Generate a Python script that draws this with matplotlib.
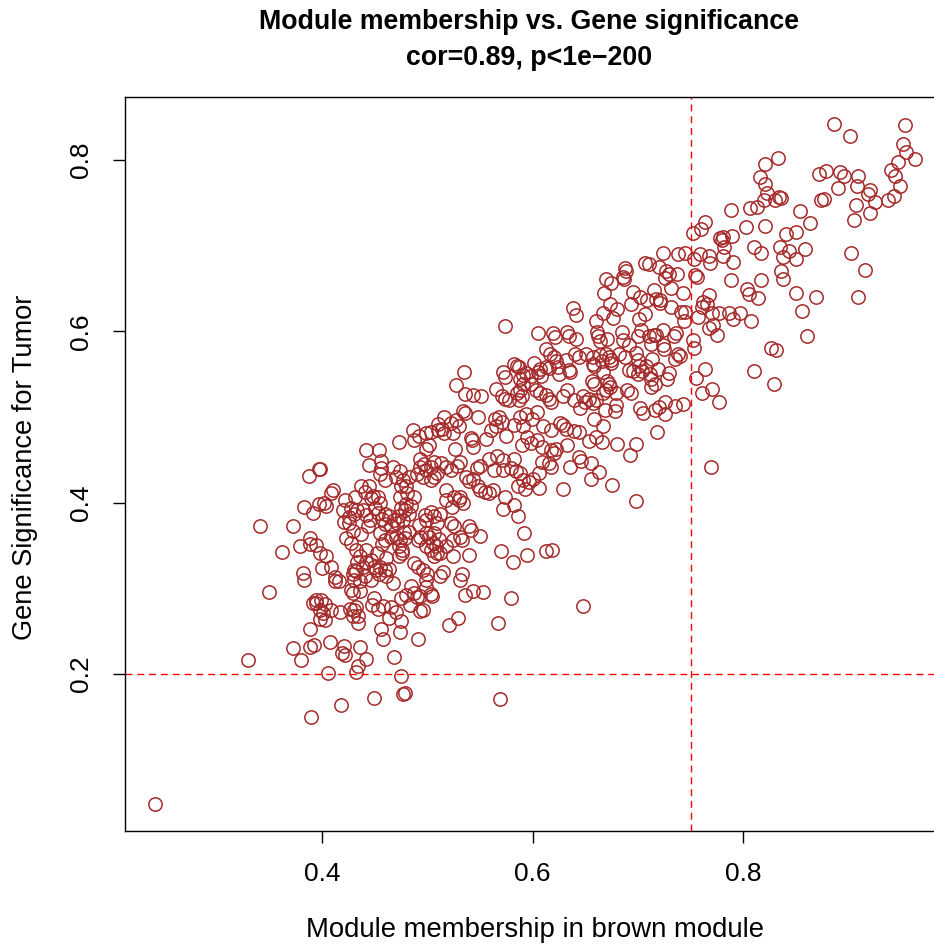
import numpy as np
import matplotlib.pyplot as plt

plt.rcParams['font.family'] = ['Liberation Sans', 'DejaVu Sans']

# (module membership, gene significance), by region of the cloud
upper_right = [
    (0.886, 0.842), (0.901, 0.828), (0.954, 0.841), (0.952, 0.819), (0.955, 0.809),
    (0.963, 0.801), (0.947, 0.798), (0.940, 0.789), (0.944, 0.781), (0.949, 0.770),
    (0.943, 0.758), (0.938, 0.754), (0.925, 0.751), (0.920, 0.765), (0.919, 0.760),
    (0.920, 0.738), (0.909, 0.782), (0.908, 0.770), (0.907, 0.748), (0.905, 0.730),
    (0.892, 0.786), (0.896, 0.782), (0.890, 0.767), (0.879, 0.787), (0.872, 0.784),
    (0.877, 0.755), (0.874, 0.753), (0.902, 0.692), (0.916, 0.672), (0.909, 0.640),
    (0.863, 0.726), (0.854, 0.741), (0.859, 0.696), (0.850, 0.716), (0.841, 0.714),
    (0.843, 0.694), (0.850, 0.684), (0.835, 0.699), (0.838, 0.687), (0.836, 0.670),
    (0.838, 0.661), (0.850, 0.645), (0.869, 0.640), (0.856, 0.624), (0.861, 0.594),
    (0.826, 0.581), (0.831, 0.578), (0.829, 0.538), (0.810, 0.554),
    (0.833, 0.803), (0.821, 0.796), (0.816, 0.780), (0.821, 0.772), (0.823, 0.762),
    (0.820, 0.754), (0.813, 0.745), (0.806, 0.744), (0.830, 0.754), (0.834, 0.757),
    (0.836, 0.756), (0.788, 0.742), (0.803, 0.722), (0.821, 0.723),
]

near_line = [
    (0.764, 0.728), (0.760, 0.719), (0.752, 0.715), (0.778, 0.709), (0.781, 0.710),
    (0.789, 0.711), (0.780, 0.707), (0.782, 0.699), (0.810, 0.698), (0.817, 0.691),
    (0.781, 0.688), (0.790, 0.681), (0.759, 0.690), (0.767, 0.688), (0.768, 0.680),
    (0.753, 0.685), (0.754, 0.666), (0.756, 0.664), (0.788, 0.660), (0.817, 0.660),
    (0.804, 0.649), (0.805, 0.644), (0.814, 0.639), (0.767, 0.643), (0.762, 0.634),
    (0.766, 0.632), (0.761, 0.628), (0.770, 0.621), (0.757, 0.617), (0.777, 0.621),
    (0.786, 0.621), (0.797, 0.621), (0.790, 0.614), (0.807, 0.612), (0.771, 0.607),
    (0.767, 0.604), (0.775, 0.596), (0.752, 0.590), (0.753, 0.581), (0.764, 0.556),
    (0.755, 0.546), (0.770, 0.533), (0.761, 0.528), (0.777, 0.517), (0.769, 0.441),
]

band_high = [
    (0.724, 0.691), (0.738, 0.690), (0.745, 0.692), (0.707, 0.680), (0.710, 0.679),
    (0.720, 0.675), (0.727, 0.671), (0.729, 0.667), (0.737, 0.667), (0.726, 0.662),
    (0.731, 0.651), (0.743, 0.645), (0.688, 0.674), (0.689, 0.670), (0.686, 0.664),
    (0.687, 0.661), (0.670, 0.661), (0.674, 0.656), (0.668, 0.645), (0.695, 0.646),
    (0.702, 0.640), (0.709, 0.637), (0.715, 0.648), (0.717, 0.638), (0.721, 0.637),
]

band_mid = [
    (0.574, 0.606), (0.605, 0.598), (0.619, 0.598), (0.621, 0.593), (0.613, 0.579),
    (0.616, 0.573), (0.620, 0.570), (0.622, 0.565), (0.607, 0.556), (0.613, 0.558),
    (0.601, 0.563), (0.582, 0.562), (0.587, 0.558), (0.585, 0.560), (0.594, 0.551),
    (0.598, 0.548), (0.591, 0.549), (0.572, 0.553), (0.574, 0.547), (0.588, 0.544),
    (0.535, 0.552), (0.605, 0.553), (0.608, 0.548), (0.615, 0.557), (0.624, 0.558),
    (0.625, 0.550),
]

mid_right = [
    (0.638, 0.627), (0.641, 0.619), (0.673, 0.632), (0.680, 0.626), (0.667, 0.621),
    (0.676, 0.616), (0.660, 0.612), (0.693, 0.632), (0.701, 0.614), (0.707, 0.620),
    (0.731, 0.628), (0.721, 0.633), (0.741, 0.622), (0.745, 0.622), (0.744, 0.612),
    (0.633, 0.599), (0.634, 0.594), (0.641, 0.591), (0.661, 0.599), (0.664, 0.589),
    (0.662, 0.594), (0.671, 0.591), (0.685, 0.599), (0.691, 0.584), (0.686, 0.590),
    (0.700, 0.595), (0.703, 0.602), (0.710, 0.595), (0.715, 0.596), (0.717, 0.596),
    (0.724, 0.601), (0.734, 0.595), (0.736, 0.598), (0.712, 0.585), (0.724, 0.584),
    (0.725, 0.579), (0.738, 0.573), (0.740, 0.571), (0.735, 0.568), (0.632, 0.566),
    (0.634, 0.555), (0.635, 0.553), (0.640, 0.574), (0.644, 0.570), (0.651, 0.574),
    (0.657, 0.570), (0.657, 0.562), (0.658, 0.560), (0.664, 0.572), (0.666, 0.565),
    (0.667, 0.553), (0.672, 0.570), (0.674, 0.567), (0.674, 0.563), (0.670, 0.573),
    (0.682, 0.573), (0.688, 0.570), (0.691, 0.555), (0.695, 0.554), (0.698, 0.575),
    (0.700, 0.566), (0.701, 0.560), (0.704, 0.554), (0.700, 0.550), (0.708, 0.559),
    (0.713, 0.568), (0.711, 0.550), (0.712, 0.544), (0.719, 0.556), (0.712, 0.535),
    (0.716, 0.539), (0.729, 0.551), (0.728, 0.544), (0.656, 0.542), (0.671, 0.542),
    (0.672, 0.538), (0.673, 0.535), (0.670, 0.532), (0.679, 0.528), (0.690, 0.531),
    (0.693, 0.528), (0.658, 0.538), (0.633, 0.532), (0.629, 0.524), (0.639, 0.520),
    (0.645, 0.510), (0.648, 0.524), (0.650, 0.518), (0.653, 0.521), (0.657, 0.516),
    (0.660, 0.520), (0.667, 0.528), (0.669, 0.508), (0.679, 0.514), (0.678, 0.507),
    (0.702, 0.511), (0.705, 0.505), (0.716, 0.508), (0.720, 0.512), (0.726, 0.517),
    (0.726, 0.503), (0.735, 0.513), (0.743, 0.515), (0.658, 0.498), (0.667, 0.489),
    (0.629, 0.490), (0.632, 0.486), (0.639, 0.483), (0.644, 0.482), (0.633, 0.467),
    (0.653, 0.472), (0.660, 0.476), (0.666, 0.471), (0.680, 0.468), (0.698, 0.468),
    (0.692, 0.456), (0.718, 0.482), (0.644, 0.453), (0.646, 0.448), (0.655, 0.446),
    (0.635, 0.442), (0.663, 0.436), (0.655, 0.427), (0.675, 0.420), (0.629, 0.416),
    (0.698, 0.402), (0.648, 0.279),
]

core_right = [
    (0.527, 0.537), (0.536, 0.527), (0.543, 0.526), (0.551, 0.524), (0.565, 0.533),
    (0.571, 0.525), (0.574, 0.521), (0.577, 0.520), (0.585, 0.528), (0.588, 0.532),
    (0.590, 0.524), (0.587, 0.520), (0.591, 0.539), (0.598, 0.539), (0.603, 0.532),
    (0.607, 0.528), (0.613, 0.526), (0.617, 0.518), (0.615, 0.521), (0.516, 0.500),
    (0.522, 0.493), (0.527, 0.496), (0.530, 0.489), (0.536, 0.504), (0.534, 0.507),
    (0.548, 0.500), (0.514, 0.486), (0.516, 0.481), (0.524, 0.481), (0.526, 0.463),
    (0.541, 0.475), (0.543, 0.465), (0.542, 0.473), (0.556, 0.474), (0.560, 0.485),
    (0.564, 0.498), (0.568, 0.500), (0.571, 0.494), (0.565, 0.489), (0.575, 0.478),
    (0.582, 0.491), (0.588, 0.500), (0.594, 0.503), (0.599, 0.498), (0.604, 0.506),
    (0.591, 0.489), (0.595, 0.477), (0.590, 0.467), (0.582, 0.451), (0.598, 0.469),
    (0.604, 0.473), (0.609, 0.465), (0.617, 0.461), (0.620, 0.458), (0.622, 0.463),
    (0.610, 0.489), (0.617, 0.485), (0.626, 0.493), (0.609, 0.447), (0.615, 0.446),
    (0.617, 0.441), (0.606, 0.434), (0.513, 0.446), (0.518, 0.442), (0.522, 0.438),
    (0.528, 0.443), (0.531, 0.447), (0.537, 0.430), (0.539, 0.425), (0.543, 0.428),
    (0.547, 0.440), (0.550, 0.443), (0.558, 0.451), (0.566, 0.454), (0.572, 0.450),
    (0.563, 0.438), (0.572, 0.438), (0.579, 0.440), (0.584, 0.437), (0.588, 0.434),
    (0.591, 0.426), (0.596, 0.424), (0.600, 0.428), (0.606, 0.417), (0.555, 0.412),
    (0.558, 0.411), (0.562, 0.415), (0.550, 0.415), (0.548, 0.419), (0.574, 0.406),
    (0.572, 0.393), (0.582, 0.397), (0.586, 0.384), (0.586, 0.419), (0.593, 0.416),
    (0.518, 0.415), (0.525, 0.407), (0.530, 0.403), (0.534, 0.399), (0.531, 0.407),
    (0.523, 0.395), (0.518, 0.403), (0.512, 0.387), (0.522, 0.376), (0.525, 0.372),
    (0.531, 0.360), (0.533, 0.356), (0.524, 0.356), (0.518, 0.349), (0.512, 0.341),
    (0.539, 0.372), (0.541, 0.368), (0.550, 0.361), (0.592, 0.364), (0.570, 0.343),
    (0.581, 0.330), (0.595, 0.339), (0.613, 0.343), (0.618, 0.345), (0.539, 0.339),
    (0.524, 0.337), (0.515, 0.319), (0.512, 0.314), (0.533, 0.316), (0.531, 0.309),
    (0.536, 0.292), (0.543, 0.297), (0.553, 0.296), (0.579, 0.288), (0.520, 0.257),
    (0.529, 0.265), (0.567, 0.259), (0.569, 0.170),
]

core_left = [
    (0.486, 0.485), (0.473, 0.471), (0.442, 0.461), (0.454, 0.461), (0.444, 0.444),
    (0.456, 0.449), (0.487, 0.473), (0.492, 0.478), (0.499, 0.481), (0.503, 0.482),
    (0.510, 0.492), (0.510, 0.485), (0.501, 0.467), (0.499, 0.462), (0.493, 0.451),
    (0.497, 0.445), (0.499, 0.438), (0.503, 0.441), (0.506, 0.447), (0.509, 0.434),
    (0.506, 0.430), (0.503, 0.426), (0.493, 0.441), (0.490, 0.433), (0.496, 0.430),
    (0.474, 0.437), (0.467, 0.441), (0.470, 0.430), (0.477, 0.426), (0.482, 0.430),
    (0.475, 0.419), (0.455, 0.433), (0.460, 0.426), (0.456, 0.440), (0.398, 0.439),
    (0.410, 0.415), (0.408, 0.411), (0.402, 0.399), (0.404, 0.396), (0.422, 0.403),
    (0.431, 0.406), (0.437, 0.419), (0.444, 0.419), (0.441, 0.412), (0.448, 0.408),
    (0.446, 0.405), (0.453, 0.406), (0.450, 0.394), (0.453, 0.388), (0.455, 0.400),
    (0.427, 0.394), (0.430, 0.387), (0.433, 0.391), (0.425, 0.383), (0.420, 0.391),
    (0.439, 0.391), (0.442, 0.385), (0.445, 0.380), (0.443, 0.372), (0.437, 0.363),
    (0.429, 0.367), (0.425, 0.376), (0.421, 0.377), (0.457, 0.381), (0.460, 0.375),
    (0.463, 0.384), (0.460, 0.387), (0.465, 0.372), (0.468, 0.380), (0.471, 0.376),
    (0.473, 0.384), (0.477, 0.380), (0.465, 0.360), (0.457, 0.352), (0.460, 0.356),
    (0.455, 0.364), (0.470, 0.360), (0.474, 0.356), (0.478, 0.365), (0.479, 0.358),
    (0.482, 0.366), (0.473, 0.349), (0.476, 0.345), (0.473, 0.337), (0.476, 0.341),
    (0.461, 0.335), (0.452, 0.341), (0.446, 0.333), (0.442, 0.345), (0.432, 0.344),
    (0.427, 0.353), (0.423, 0.359), (0.436, 0.337), (0.433, 0.330), (0.439, 0.325),
    (0.430, 0.321), (0.429, 0.317), (0.432, 0.320), (0.442, 0.330), (0.449, 0.325),
    (0.451, 0.321), (0.455, 0.325), (0.454, 0.317), (0.460, 0.321), (0.463, 0.322),
    (0.461, 0.314), (0.446, 0.310), (0.441, 0.314), (0.436, 0.308), (0.430, 0.310),
    (0.436, 0.297), (0.427, 0.298), (0.429, 0.294), (0.467, 0.306), (0.484, 0.302),
    (0.487, 0.329), (0.491, 0.325), (0.496, 0.321), (0.500, 0.317), (0.499, 0.310),
    (0.499, 0.301), (0.503, 0.293), (0.493, 0.291), (0.487, 0.294), (0.499, 0.349),
    (0.505, 0.353), (0.508, 0.349), (0.503, 0.344), (0.509, 0.341), (0.506, 0.337),
    (0.501, 0.360), (0.506, 0.364), (0.511, 0.357), (0.499, 0.364), (0.492, 0.374),
    (0.499, 0.380), (0.506, 0.384), (0.509, 0.376), (0.498, 0.386), (0.503, 0.389),
    (0.479, 0.391), (0.482, 0.387), (0.480, 0.398), (0.475, 0.394), (0.484, 0.396),
    (0.474, 0.407), (0.481, 0.411), (0.487, 0.407), (0.480, 0.419), (0.491, 0.356),
    (0.493, 0.360), (0.398, 0.341), (0.404, 0.337), (0.400, 0.324), (0.408, 0.325),
    (0.412, 0.313), (0.412, 0.308), (0.416, 0.308), (0.399, 0.286), (0.403, 0.282),
    (0.408, 0.275), (0.398, 0.275), (0.403, 0.263), (0.401, 0.271), (0.417, 0.272),
    (0.426, 0.276), (0.430, 0.274), (0.432, 0.278), (0.429, 0.268), (0.434, 0.268),
    (0.434, 0.259), (0.449, 0.288), (0.447, 0.280), (0.453, 0.276), (0.458, 0.279),
    (0.465, 0.278), (0.470, 0.272), (0.463, 0.265), (0.475, 0.261), (0.474, 0.249),
    (0.456, 0.252), (0.458, 0.240), (0.475, 0.288), (0.480, 0.292), (0.483, 0.280),
    (0.490, 0.290), (0.493, 0.273), (0.496, 0.275), (0.504, 0.291), (0.407, 0.237),
    (0.421, 0.232), (0.419, 0.224), (0.422, 0.222), (0.436, 0.231), (0.442, 0.217),
    (0.434, 0.209), (0.432, 0.202), (0.405, 0.201), (0.468, 0.220), (0.475, 0.197),
    (0.477, 0.176), (0.479, 0.177), (0.449, 0.172), (0.418, 0.164), (0.491, 0.240),
]

tail_left = [
    (0.397, 0.439), (0.387, 0.431), (0.383, 0.395), (0.391, 0.388), (0.397, 0.398),
    (0.341, 0.373), (0.372, 0.373), (0.388, 0.359), (0.388, 0.352), (0.394, 0.350),
    (0.379, 0.349), (0.362, 0.342), (0.382, 0.318), (0.383, 0.310), (0.349, 0.296),
    (0.394, 0.286), (0.391, 0.283), (0.394, 0.283), (0.398, 0.264), (0.388, 0.252),
    (0.372, 0.230), (0.380, 0.216), (0.388, 0.231), (0.392, 0.234), (0.329, 0.216),
    (0.389, 0.149), (0.241, 0.048),
]

groups = [upper_right, near_line, band_high, band_mid, mid_right,
          core_right, core_left, tail_left]
pts = np.array([p for g in groups for p in g])
mm = pts[:, 0]
gs = pts[:, 1]

# R-style 4% axis extension
def r_lim(v):
    pad = 0.04 * (v.max() - v.min())
    return v.min() - pad, v.max() + pad

fig = plt.figure(figsize=(9.34, 9.52), dpi=100)
ax = fig.add_axes([124.5 / 934, 1 - 831 / 952, 820.7 / 934, 734 / 952])

ax.plot(mm, gs, 'o', mfc='none', mec='#A52A2A', ms=9.6, mew=1.1)
ax.axhline(0.2, color='red', lw=1.0, ls=(0, (5, 3.5)))
ax.axvline(0.75, color='red', lw=1.0, ls=(0, (5, 3.5)))

ax.set_xlim(*r_lim(mm))
ax.set_ylim(*r_lim(gs))
ax.set_xticks([0.4, 0.6, 0.8])
ax.set_yticks([0.2, 0.4, 0.6, 0.8])
ax.set_xticklabels(['0.4', '0.6', '0.8'])
ax.set_yticklabels(['0.2', '0.4', '0.6', '0.8'], rotation=90, va='center')
ax.tick_params(axis='both', direction='out', length=8.5, width=1.0,
               labelsize=19, pad=14)
for s in ax.spines.values():
    s.set_linewidth(1.0)

fig.text(529 / 934, 1 - 22 / 952, 'Module membership vs. Gene significance',
         ha='center', va='center', fontsize=19.3, fontweight='bold')
fig.text(529 / 934, 1 - 58 / 952, 'cor=0.89, p<1e\u2212200',
         ha='center', va='center', fontsize=19.3, fontweight='bold')
fig.text(535 / 934, 1 - 930 / 952, 'Module membership in brown module',
         ha='center', va='center', fontsize=19.8)
fig.text(25 / 934, 1 - 467 / 952, 'Gene Significance for Tumor',
         ha='center', va='center', fontsize=19.6, rotation=90)

fig.savefig('out.png', dpi=100)
